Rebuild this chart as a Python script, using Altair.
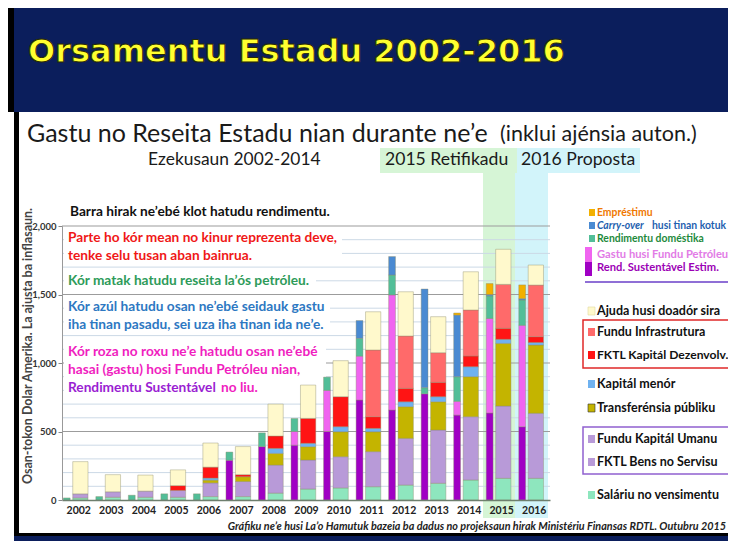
import altair as alt
import pandas as pd

# ---------------- data (US$ million, inflation adjusted) ----------------
years = list(range(2002, 2017))

# revenue bars (narrow, left)
rev_sustainable = [0, 0, 0, 0, 0, 290, 390, 400, 500, 730, 657, 775, 620, 635, 535]
rev_pf_excess   = [0, 0, 0, 0, 0, 0, 0, 100, 300, 320, 840, 0, 100, 690, 740]
rev_domestic    = [15, 25, 35, 45, 45, 60, 100, 95, 97, 130, 145, 45, 180, 165, 185]
rev_carryover   = [0, 0, 0, 0, 0, 0, 0, 0, 0, 130, 135, 720, 450, 10, 10]
rev_loans       = [0, 0, 0, 0, 0, 0, 0, 0, 0, 0, 0, 0, 15, 80, 100]

# expenditure bars (wide, right)
exp_salary    = [15, 20, 20, 20, 25, 25, 50, 80, 88, 97, 109, 122, 146, 158, 158]
exp_goods     = [30, 40, 45, 50, 100, 110, 205, 212, 228, 256, 341, 389, 462, 528, 475]
exp_transfers = [0, 0, 0, 0, 20, 35, 85, 97, 182, 145, 231, 206, 292, 457, 498]
exp_minor     = [0, 0, 0, 0, 15, 0, 37, 25, 37, 25, 36, 37, 73, 30, 19]
exp_capdev    = [0, 0, 0, 35, 80, 15, 90, 182, 219, 85, 98, 105, 78, 80, 42]
exp_infra     = [0, 0, 0, 0, 0, 0, 0, 0, 0, 487, 382, 216, 336, 321, 377]
exp_donor     = [235, 125, 117, 115, 176, 205, 233, 243, 263, 279, 323, 263, 279, 256, 146]

y_ticks = [0, 500, 1000, 1500, 2000]

rev_series = [
    ("Rend. Sustentável Estim.", rev_sustainable, "#A000C4"),
    ("Gastu husi Fundu Petróleu", rev_pf_excess, "#F064F0"),
    ("Rendimentu doméstika", rev_domestic, "#52BE98"),
    ("Carry-over", rev_carryover, "#4A8AD2"),
    ("Empréstimu", rev_loans, "#F2B000"),
]
exp_series = [
    ("Saláriu no vensimentu", exp_salary, "#8EE6BE"),
    ("Bens no Servisu", exp_goods, "#B89AD8"),
    ("Transferénsia públiku", exp_transfers, "#C4B400"),
    ("Kapitál menór", exp_minor, "#6FB2F0"),
    ("FKTL Kapitál Dezenvolv.", exp_capdev, "#FF1414"),
    ("Fundu Infrastrutura", exp_infra, "#FF6A6A"),
    ("Ajuda husi doadór sira", exp_donor, "#FFF9CC"),
]

rows = []
for i, yr in enumerate(years):
    for kind, series, off in (("rev", rev_series, (0.04, 0.25)), ("exp", exp_series, (0.33, 0.80))):
        base = 0
        for order, (name, vals, col) in enumerate(series):
            v = vals[i]
            if v <= 0:
                continue
            rows.append(dict(year=yr, comp=name, kind=kind, order=order,
                             xa=yr - 0.5 + off[0], xb=yr - 0.5 + off[1],
                             y0=base, y1=base + v, col=col))
            base += v
bars_df = pd.DataFrame(rows)

# ---------------- layout helpers (reference pixel coords) ----------------
OX, OY = 62, 226          # plot origin in reference picture
W, H = 488, 274
FONT = "Lato"
one = pd.DataFrame({"a": [0]})


def rect(x1, y1, x2, y2, fill, stroke=None, sw=0, opacity=1):
    kw = dict(fill=fill, opacity=opacity)
    if stroke:
        kw.update(stroke=stroke, strokeWidth=sw)
    else:
        kw.update(strokeWidth=0)
    return alt.Chart(one).mark_rect(**kw).encode(
        x=alt.value(x1 - OX), x2=alt.value(x2 - OX),
        y=alt.value(y1 - OY), y2=alt.value(y2 - OY))


def txt(s, x, y, size, color, weight="bold", style="normal", font=FONT,
        align="left", angle=0, **extra):
    return alt.Chart(one).mark_text(
        font=font, fontSize=size, fontWeight=weight, fontStyle=style,
        color=color, align=align, baseline="middle", angle=angle, **extra
    ).encode(x=alt.value(x - OX), y=alt.value(y - OY), text=alt.value(s))


yscale = alt.Scale(domain=[0, 2000], nice=False, zero=True)
yaxis = alt.Axis(values=y_ticks, format=",.0f", title=None, grid=False,
                 labelFontSize=9.5, labelFontWeight="bold", labelFont=FONT,
                 labelColor="#333", tickSize=4, tickColor="#888",
                 domainColor="#999", labelPadding=2, zindex=1)

layers = []
# frame / banner
layers.append(rect(0, 0, 736, 112, "#0B1E5C"))
layers.append(rect(0, 0, 14, 112, "#000000"))
layers.append(rect(0, 0, 736, 4, "#000000"))
layers.append(rect(14, 112, 19, 536, "#000000"))
layers.append(rect(14, 533, 736, 549, "#0B1E5C"))
layers.append(rect(14, 533, 736, 536, "#000000"))
# title (yellow with dark outline)
layers.append(txt("Orsamentu Estadu 2002-2016", 28, 52, 32, "#FFFF30", font="DejaVu Sans",
                  stroke="#2a2a00", strokeWidth=0.9))

# header boxes and column highlights
layers.append(rect(380, 148, 517, 173, "#D6F5D6"))
layers.append(rect(517, 148, 640, 173, "#D2F4FA"))
layers.append(rect(483, 173, 515, 518, "#D6F5D6"))
layers.append(rect(515, 173, 548, 518, "#D2F4FA"))

layers.append(txt("Gastu no Reseita Estadu nian durante ne’e", 27, 134, 25, "#1a1a1a", weight="normal"))
layers.append(txt("(inklui ajénsia auton.)", 500, 135, 21.5, "#1a1a1a", weight="normal"))
layers.append(txt("Ezekusaun 2002-2014", 148, 160, 17.4, "#1a1a1a", weight="normal"))
layers.append(txt("2015 Retifikadu", 385, 160, 17.6, "#1a1a1a", weight="normal"))
layers.append(txt("2016 Proposta", 521, 160, 17.6, "#1a1a1a", weight="normal"))

# grid lines
minor_vals = [v for v in range(100, 2000, 100) if v % 500]
major_vals = [500, 1000, 1500, 2000]
layers.append(alt.Chart(pd.DataFrame({"v": minor_vals})).mark_rule(color="#CCD9E6", strokeWidth=1).encode(
    y=alt.Y("v:Q", scale=yscale, axis=yaxis), x=alt.value(0), x2=alt.value(W)))
layers.append(alt.Chart(pd.DataFrame({"v": major_vals})).mark_rule(color="#9C9C9C", strokeWidth=1.2).encode(
    y=alt.Y("v:Q", scale=yscale, axis=yaxis), x=alt.value(0), x2=alt.value(W)))

# white text boxes (hide grid behind the notes)
layers.append(rect(64, 230, 342, 264, "white"))
layers.append(rect(64, 274, 316, 289, "white"))
layers.append(rect(64, 299, 330, 333, "white"))
layers.append(rect(64, 344, 326, 396, "white"))

# bars
color_domain = [n for n, _, _ in rev_series] + [n for n, _, _ in exp_series]
color_range = [c for _, _, c in rev_series] + [c for _, _, c in exp_series]
bars = alt.Chart(bars_df).mark_rect(stroke="#8a8a6a", strokeWidth=0.4).encode(
    x=alt.X("xa:Q", scale=alt.Scale(domain=[2001.5, 2016.5], nice=False, zero=False),
            axis=alt.Axis(values=years, format="d", title=None, grid=False, ticks=False,
                          labelFontSize=10.5, labelFontWeight="bold", labelFont=FONT,
                          labelColor="#222", labelPadding=5, domainColor="#6E7F6E",
                          domainWidth=1.5, zindex=1)),
    x2="xb:Q",
    y=alt.Y("y0:Q", scale=yscale, axis=yaxis),
    y2="y1:Q",
    color=alt.Color("comp:N", scale=alt.Scale(domain=color_domain, range=color_range), legend=None),
)
layers.append(bars)

# y axis title
layers.append(txt("Osan-tokon Dolar Amerika.   La ajusta ba inflasaun.", 28, 346, 12.5, "#444",
                  align="center", angle=270))

# annotations in plot
TS = 13.7
layers.append(txt("Barra hirak ne’ebé klot hatudu rendimentu.", 70, 212, TS, "#111"))
layers.append(txt("Parte ho kór mean no kinur reprezenta deve,", 68, 238, TS, "#F01818"))
layers.append(txt("tenke selu tusan aban bainrua.", 68, 256, TS, "#F01818"))
layers.append(txt("Kór matak hatudu reseita la’ós petróleu.", 68, 281, TS, "#2E9B5A"))
layers.append(txt("Kór azúl hatudu osan ne’ebé seidauk gastu", 68, 307, TS, "#2D78C2"))
layers.append(txt("iha tinan pasadu, sei uza iha tinan ida ne’e.", 68, 325, TS, "#2D78C2"))
layers.append(txt("Kór roza no roxu ne’e hatudu osan ne’ebé", 68, 352, TS, "#F01EC0"))
layers.append(txt("hasai (gastu) hosi Fundu Petróleu nian,", 68, 370, TS, "#F01EC0"))
layers.append(txt("Rendimentu Sustentável", 68, 388, TS, "#9A1ED2"))
layers.append(txt("no liu.", 221, 388, TS, "#F01EC0"))

# legend
LX = 597
US = 10.4
layers.append(rect(589, 209, 595, 216, "#F2B000"))
layers.append(txt("Empréstimu", LX, 213, US, "#F07800"))
layers.append(rect(589, 222, 595, 229, "#4A8AD2"))
layers.append(txt("Carry-over", LX, 226, US, "#1F5FAF", style="italic"))
layers.append(txt("husi tinan kotuk", LX + 55, 226, US, "#1F5FAF"))
layers.append(rect(589, 235, 595, 242, "#52BE98"))
layers.append(txt("Rendimentu doméstika", LX, 239, US, "#1E8A3C"))
layers.append(rect(585, 247, 592, 262, "#F064F0"))
layers.append(rect(585, 262, 592, 276, "#A000C4"))
layers.append(txt("Gastu husi Fundu Petróleu", LX, 255, 11.2, "#E27BE6"))
layers.append(txt("Rend. Sustentável Estim.", LX, 268, 11.2, "#9B00B5"))
layers.append(rect(585, 281, 736, 283, "#8F6FD6"))

LS = 12.5
layers.append(rect(588, 307, 595, 315, "#FFF9CC", stroke="#E0D8A0", sw=0.6))
layers.append(txt("Ajuda husi doadór sira", LX, 311, LS, "#111"))
layers.append(rect(583, 320, 733, 368, "none", stroke="#E02828", sw=1.5))
layers.append(rect(588, 328, 595, 336, "#FF6A6A"))
layers.append(txt("Fundu Infrastrutura", LX, 332, LS, "#111"))
layers.append(rect(588, 351, 595, 359, "#FF1414"))
layers.append(txt("FKTL Kapitál Dezenvolv.", LX, 355, 12.1, "#111"))
layers.append(rect(588, 380, 595, 388, "#6FB2F0"))
layers.append(txt("Kapitál menór", LX, 384, LS, "#111"))
layers.append(rect(588, 404, 595, 412, "#C4B400", stroke="#333", sw=0.6))
layers.append(txt("Transferénsia públiku", LX, 408, LS, "#111"))
layers.append(rect(583, 427, 733, 474, "none", stroke="#9060D0", sw=1.5))
layers.append(rect(588, 435, 595, 443, "#B89AD8"))
layers.append(txt("Fundu Kapitál Umanu", LX, 439, LS, "#111"))
layers.append(rect(588, 458, 595, 466, "#B89AD8"))
layers.append(txt("FKTL Bens no Servisu", LX, 462, LS, "#111"))
layers.append(rect(588, 491, 595, 499, "#8EE6BE"))
layers.append(txt("Saláriu no vensimentu", LX, 495, LS, "#111"))

# footer
layers.append(txt("Gráfiku ne’e husi La’o Hamutuk bazeia ba dadus no projeksaun hirak Ministériu Finansas RDTL. Outubru 2015",
                  726, 527, 10.8, "#222", style="italic", align="right"))

chart = alt.layer(*layers).properties(
    width=W, height=H,
    padding={"left": OX - 8, "top": OY - 8, "right": 720 - (OX - 8) - W, "bottom": 533 - (OY - 8) - H},
    autosize=alt.AutoSizeParams(type="none"),
    background="white",
).configure_view(stroke=None)

chart.save("out.html", embed_options={"renderer": "svg", "actions": False})
